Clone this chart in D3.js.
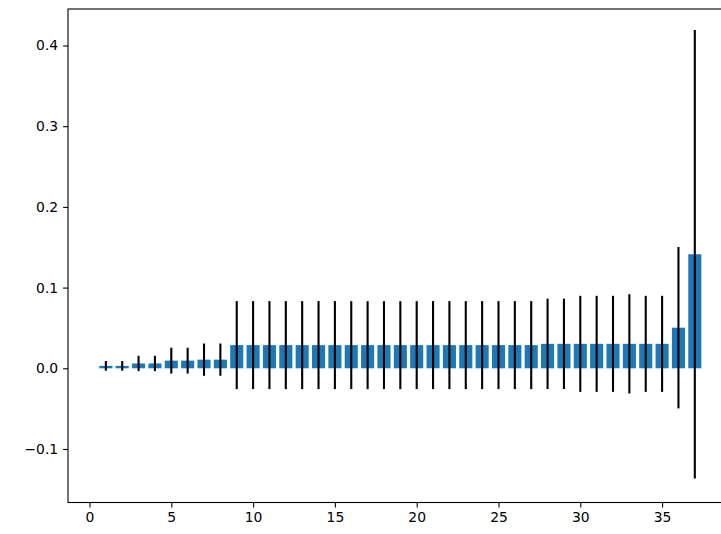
<!DOCTYPE html>
<html>
<head>
<meta charset="utf-8">
<script src="https://cdn.jsdelivr.net/npm/d3@7"></script>
<style>
  body { margin: 0; background: #fff; }
  text { font-family: "DejaVu Sans", sans-serif; }
</style>
</head>
<body>
<div id="chart"></div>
<script>
// bar positions, heights and symmetric error half-widths
var positions = [1, 2, 3, 4, 5, 6, 7, 8, 9, 10, 11, 12, 13, 14, 15, 16, 17, 18, 19,
  20, 21, 22, 23, 24, 25, 26, 27, 28, 29, 30, 31, 32, 33, 34, 35, 36, 37];
var values = [0.003, 0.003, 0.006, 0.006, 0.0095, 0.0095, 0.0107, 0.0107,
  0.0287, 0.0287, 0.0287, 0.0287, 0.0287, 0.0287, 0.0287, 0.0287, 0.0287, 0.0287,
  0.0287, 0.0287, 0.0287, 0.0287, 0.0287, 0.0287, 0.0287, 0.0287, 0.0287,
  0.0303, 0.0303, 0.0303, 0.0303, 0.0303, 0.0303, 0.0303, 0.0303, 0.0503, 0.1413];
var errors = [0.006, 0.006, 0.0095, 0.0095, 0.016, 0.016, 0.02, 0.02,
  0.0545, 0.0545, 0.0545, 0.0545, 0.0545, 0.0545, 0.0545, 0.0545, 0.0545, 0.0545,
  0.0545, 0.0545, 0.0545, 0.0545, 0.0545, 0.0545, 0.0545, 0.0545, 0.0545,
  0.056, 0.056, 0.0595, 0.0595, 0.0595, 0.0615, 0.0595, 0.0595, 0.1, 0.278];
var xTicks = [0, 5, 10, 15, 20, 25, 30, 35];
var yTicks = [-0.1, 0.0, 0.1, 0.2, 0.3, 0.4];

var width = 721, height = 534;
var plot = { left: 68, top: 9, right: 732.6, bottom: 502.5 };

var svg = d3
  .select("#chart")
  .append("svg")
  .attr("width", width)
  .attr("height", height);

var x = d3.scaleLinear().domain([-1.314, 39.31]).range([plot.left, plot.right]);
var y = d3.scaleLinear().domain([-0.1663, 0.4452]).range([plot.bottom, plot.top]);

var data = positions.map(function (p, i) {
  return { pos: p, value: values[i], err: errors[i] };
});

var barW = x(0.8) - x(0);

// bars
svg
  .selectAll(".bar")
  .data(data)
  .enter()
  .append("rect")
  .attr("class", "bar")
  .attr("x", function (d) { return x(d.pos) - barW / 2; })
  .attr("width", barW)
  .attr("y", function (d) { return y(Math.max(0, d.value)); })
  .attr("height", function (d) { return Math.abs(y(d.value) - y(0)); })
  .style("fill", "#1f77b4");

// error bars
svg
  .selectAll(".err")
  .data(data)
  .enter()
  .append("line")
  .attr("class", "err")
  .attr("x1", function (d) { return x(d.pos); })
  .attr("x2", function (d) { return x(d.pos); })
  .attr("y1", function (d) { return y(d.value - d.err); })
  .attr("y2", function (d) { return y(d.value + d.err); })
  .style("stroke", "#000")
  .style("stroke-width", 2.1);

// axes
var xAxis = d3.axisBottom(x).tickValues(xTicks).tickSize(4.9).tickPadding(4.9)
  .tickFormat(d3.format("d"));
var yAxis = d3.axisLeft(y).tickValues(yTicks).tickSize(4.9).tickPadding(4.9)
  .tickFormat(function (d) { return d3.format(".1f")(d).replace("-", "\u2212"); });

var gx = svg.append("g")
  .attr("transform", "translate(0," + plot.bottom + ")")
  .call(xAxis);
var gy = svg.append("g")
  .attr("transform", "translate(" + plot.left + ",0)")
  .call(yAxis);

[gx, gy].forEach(function (g) {
  g.select(".domain").remove();
  g.selectAll(".tick line").style("stroke", "#000").style("stroke-width", 1.1);
  g.selectAll(".tick text")
    .style("font-size", "13.9px")
    .style("fill", "#000")
    .style("font-family", "'DejaVu Sans', sans-serif");
});

// spines
svg.append("rect")
  .attr("x", plot.left)
  .attr("y", plot.top)
  .attr("width", plot.right - plot.left)
  .attr("height", plot.bottom - plot.top)
  .style("fill", "none")
  .style("stroke", "#000")
  .style("stroke-width", 1.1);
</script>
</body>
</html>
